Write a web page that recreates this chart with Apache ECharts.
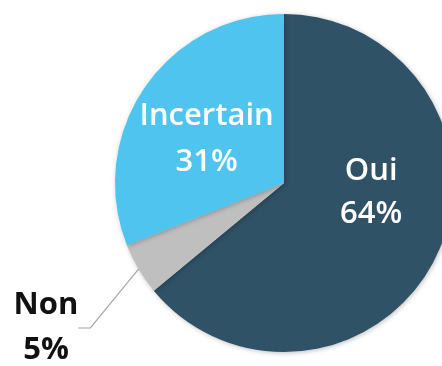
<!DOCTYPE html>
<html><head><meta charset="utf-8">
<script src="https://cdn.jsdelivr.net/npm/echarts@6/dist/echarts.min.js"></script>
<style>html,body{margin:0;padding:0;background:#fff}#c{width:442px;height:366px}</style>
</head><body><div id="c"></div>
<script>
const categories = ['Oui', 'Non', 'Incertain'];
const values = [64, 5, 31];
const colors = ['#305266', '#BFBFBF', '#4FC4EE'];

const chart = echarts.init(document.getElementById('c'), null, {renderer: 'canvas'});
const data = categories.map((c, i) => ({
  name: c, value: values[i],
  itemStyle: {color: colors[i]},
  label: i === 1 ? {
    position: 'outside', color: '#111', fontSize: 31, fontWeight: 'bold', lineHeight: 45
  } : {position: 'inside', color: '#fff', fontSize: 31, fontWeight: 600, lineHeight: i === 2 ? 46 : 43},
  labelLine: i === 1 ? {show: true, length: 40, length2: 12, lineStyle: {color: '#A6A6A6', width: 1.2}} : {show: false}
}));
chart.setOption({
  animation: false,
  series: [{
    type: 'pie',
    center: [284, 183],
    radius: 169,
    startAngle: 90,
    clockwise: true,
    data: data,
    label: {show: true, formatter: '{b}\n{d}%', fontFamily: 'Open Sans'},
    itemStyle: {shadowBlur: 5, shadowColor: 'rgba(0,0,0,0.25)', shadowOffsetX: 1, shadowOffsetY: 1},
    emphasis: {disabled: true},
    labelLayout: function (p) {
      if (p.dataIndex === 1) return {x: 46, y: 328, align: 'center', verticalAlign: 'middle'};
      if (p.dataIndex === 0) return {dx: 8, dy: -28};
      return {dx: -5, dy: 5};
    }
  }]
});
</script></body></html>
